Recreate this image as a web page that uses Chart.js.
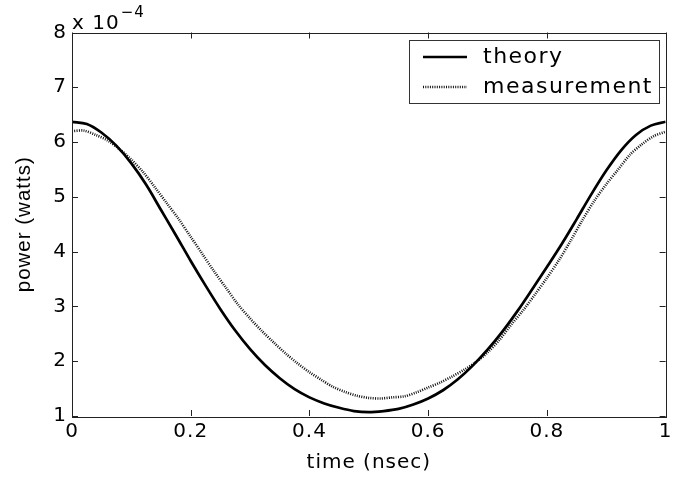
<!DOCTYPE html>
<html><head><meta charset="utf-8">
<script src="https://cdn.jsdelivr.net/npm/chart.js@4"></script>
<style>html,body{margin:0;padding:0;background:#fff}#wrap{width:676px;height:479px;position:relative}</style>
</head><body><div id="wrap"><canvas id="c"></canvas></div>
<script>
// ---- data (power in units of 1e-4 W) ----
const timeTheory = [0,0.025,0.05,0.075,0.1,0.125,0.15,0.175,0.2,0.225,0.25,0.275,0.3,0.325,0.35,0.375,0.4,0.425,0.45,0.475,0.5,0.525,0.55,0.575,0.6,0.625,0.65,0.675,0.7,0.725,0.75,0.775,0.8,0.825,0.85,0.875,0.9,0.925,0.95,0.975,1];
const powerTheory = [6.37,6.33,6.17,5.93,5.61,5.22,4.76,4.30,3.83,3.38,2.95,2.56,2.22,1.93,1.69,1.49,1.34,1.23,1.15,1.09,1.07,1.09,1.13,1.21,1.32,1.47,1.67,1.92,2.21,2.54,2.91,3.31,3.72,4.14,4.59,5.05,5.48,5.85,6.13,6.30,6.37];
const timeMeas = [0,0.02,0.04,0.06,0.08,0.1,0.12,0.14,0.16,0.18,0.2,0.22,0.24,0.26,0.28,0.3,0.32,0.34,0.36,0.38,0.4,0.42,0.44,0.46,0.48,0.5,0.52,0.54,0.56,0.58,0.6,0.62,0.64,0.66,0.68,0.7,0.72,0.74,0.76,0.78,0.8,0.82,0.84,0.86,0.88,0.9,0.92,0.94,0.96,0.98,1];
const powerMeas = [6.20,6.21,6.13,6.03,5.87,5.68,5.45,5.17,4.88,4.59,4.27,3.95,3.63,3.33,3.03,2.78,2.55,2.34,2.14,1.96,1.80,1.66,1.53,1.44,1.37,1.33,1.32,1.34,1.36,1.43,1.52,1.61,1.72,1.84,1.98,2.16,2.39,2.67,2.93,3.22,3.52,3.84,4.20,4.58,4.93,5.23,5.50,5.77,5.96,6.11,6.19];
const xTicks = [0,0.2,0.4,0.6,0.8,1];
const yTicks = [1,2,3,4,5,6,7,8];
const seriesLabels = ['theory','measurement'];
const xTitle = 'time (nsec)';
const yTitle = 'power (watts)';
const yExponent = '\u22124';

const FONT = 'DejaVu Sans';
const FS = 20;

const toPts = (xs, ys) => xs.map((x, i) => ({x, y: ys[i]}));
const fmtX = v => (v === 0 ? '0' : v === 1 ? '1' : v.toFixed(1));

const spacingPlugin = {
  id: 'spacing',
  beforeDraw(chart) { chart.ctx.letterSpacing = '1px'; }
};

const framePlugin = {
  id: 'frame',
  afterDatasetsDraw(chart) {
    const {ctx, chartArea: a, scales} = chart;
    ctx.save();
    ctx.strokeStyle = '#222';
    ctx.lineWidth = 1;
    ctx.setLineDash([]);
    ctx.strokeRect(Math.round(a.left) + 0.5, Math.round(a.top) + 0.5, Math.round(a.right - a.left), Math.round(a.bottom - a.top));
    const tl = 6;
    ctx.beginPath();
    xTicks.forEach(v => {
      const px = Math.round(scales.x.getPixelForValue(v)) + 0.5;
      ctx.moveTo(px, a.bottom); ctx.lineTo(px, a.bottom - tl);
      ctx.moveTo(px, a.top); ctx.lineTo(px, a.top + tl);
    });
    yTicks.forEach(v => {
      const py = Math.round(scales.y.getPixelForValue(v)) + 0.5;
      ctx.moveTo(a.left, py); ctx.lineTo(a.left + tl, py);
      ctx.moveTo(a.right, py); ctx.lineTo(a.right - tl, py);
    });
    ctx.stroke();
    // exponent label
    ctx.fillStyle = '#000';
    ctx.textBaseline = 'alphabetic';
    ctx.textAlign = 'left';
    ctx.letterSpacing = '1px';
    ctx.font = `${FS}px "${FONT}"`;
    ctx.fillText('x 10', a.left, 29);
    const w = ctx.measureText('x 10').width;
    ctx.font = `${Math.round(FS * 0.75)}px "${FONT}"`;
    ctx.fillText(yExponent, a.left + w + 1, 17);
    // legend
    const lx = 409, ly = 40, lw = 250, lh = 63;
    ctx.fillStyle = '#fff';
    ctx.fillRect(lx, ly, lw, lh);
    ctx.strokeStyle = '#333';
    ctx.strokeRect(lx + 0.5, ly + 0.5, lw, lh);
    const rows = [57, 87];
    chart.data.datasets.forEach((ds, i) => {
      ctx.save();
      ctx.strokeStyle = ds.borderColor;
      ctx.lineWidth = Math.min(ds.borderWidth, 2.4);
      ctx.setLineDash(ds.borderDash || []);
      ctx.beginPath();
      ctx.moveTo(423, rows[i]); ctx.lineTo(467, rows[i]);
      ctx.stroke();
      ctx.restore();
      ctx.fillStyle = '#000';
      ctx.letterSpacing = '1.5px';
      ctx.font = `22px "${FONT}"`;
      ctx.textBaseline = 'middle';
      ctx.fillText(ds.label, 483, rows[i]);
    });
    ctx.restore();
  }
};

new Chart(document.getElementById('c'), {
  type: 'line',
  data: {
    datasets: [
      {label: seriesLabels[0], data: toPts(timeTheory, powerTheory), borderColor: '#000', borderWidth: 2.7, pointRadius: 0, cubicInterpolationMode: 'monotone', fill: false},
      {label: seriesLabels[1], data: toPts(timeMeas, powerMeas), borderColor: '#111', borderWidth: 2.6, borderDash: [1, 1.3], pointRadius: 0, tension: 0.3, fill: false}
    ]
  },
  options: {
    responsive: true,
    maintainAspectRatio: false,
    animation: false,
    layout: {padding: {left: 0, top: 32.5, right: 9, bottom: 0}},
    plugins: {legend: {display: false}, tooltip: {enabled: false}},
    scales: {
      x: {
        type: 'linear', min: 0, max: 1,
        afterBuildTicks: s => { s.ticks = xTicks.map(v => ({value: v})); },
        afterFit: s => { s.height = 63; },
        grid: {display: false, drawTicks: false},
        border: {display: false},
        ticks: {color: '#000', font: {family: FONT, size: FS}, padding: 4, maxRotation: 0, callback: v => fmtX(v)},
        title: {display: true, text: xTitle, color: '#000', font: {family: FONT, size: FS}, padding: {top: 0, bottom: 4}}
      },
      y: {
        type: 'linear', min: 1, max: 8,
        afterBuildTicks: s => { s.ticks = yTicks.map(v => ({value: v})); },
        afterFit: s => { s.width = 72; },
        grid: {display: false, drawTicks: false},
        border: {display: false},
        ticks: {color: '#000', font: {family: FONT, size: FS}, padding: 5, callback: v => String(v)},
        title: {display: true, text: yTitle, color: '#000', font: {family: 'Liberation Sans', size: 20.5}, padding: {top: 12, bottom: 0}}
      }
    }
  },
  plugins: [spacingPlugin, framePlugin]
});
</script></body></html>
